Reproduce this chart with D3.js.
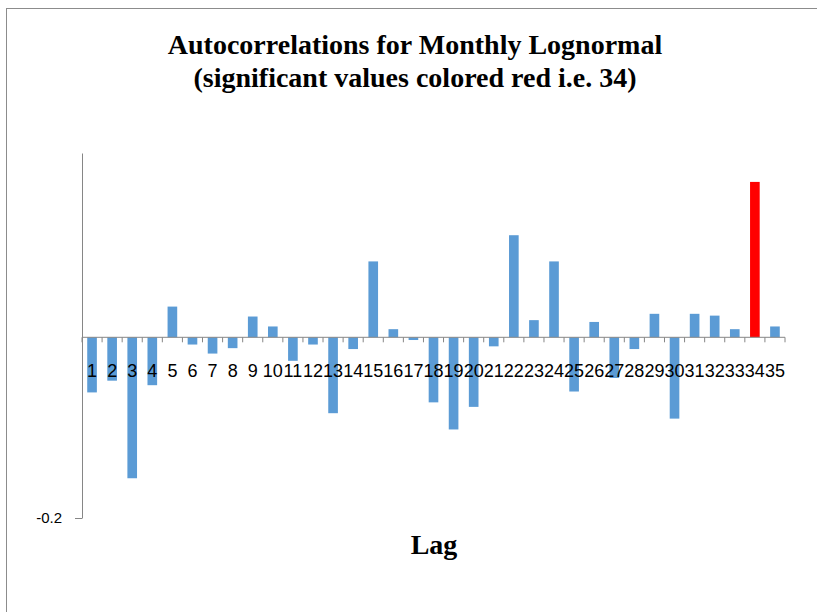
<!DOCTYPE html>
<html lang="en">
<head>
  <meta charset="utf-8">
  <title>Autocorrelations for Monthly Lognormal</title>
  <script src="https://d3js.org/d3.v7.min.js"></script>
  <style>
    body { margin: 0; background: #fff; }
    .axis path, .axis line { stroke: #868686; }
    .x.axis text { font-family: "Liberation Sans", Arial, sans-serif; font-size: 18px; fill: #000; }
    .y.axis text { font-family: "Liberation Sans", Arial, sans-serif; font-size: 15px; fill: #000; }
    .title { font-family: "Liberation Serif", "Times New Roman", serif; font-weight: bold; font-size: 28px; }
  </style>
</head>
<body>
<div class="chart1"></div>
<script>
  // lags 1..35 and autocorrelation values
  var lags = d3.range(1, 36);
  var acf = [-0.061, -0.048, -0.156, -0.053, 0.034, -0.008, -0.018, -0.012, 0.023, 0.012,
             -0.026, -0.008, -0.084, -0.013, 0.084, 0.009, -0.003, -0.072, -0.102, -0.077,
             -0.010, 0.113, 0.019, 0.084, -0.060, 0.017, -0.045, -0.013, 0.026, -0.090,
             0.026, 0.024, 0.009, 0.172, 0.012];
  var significant = [34];
  var yTicks = [-0.2];
  var yMin = -0.2, yMax = 0.204;

  var W = 817, H = 612;
  var margin = {top: 153, right: 32, bottom: 94, left: 82};
  var width = W - margin.left - margin.right,
      height = H - margin.top - margin.bottom;

  var svg = d3.select(".chart1").append("svg")
      .attr("width", W)
      .attr("height", H);

  // outer frame of the chart area
  svg.append("rect")
      .attr("x", 6.5).attr("y", 8.5)
      .attr("width", 1000).attr("height", 1000)
      .attr("fill", "none")
      .attr("stroke", "#8c8c8c");

  var title = svg.append("text")
      .attr("class", "title")
      .attr("text-anchor", "middle")
      .attr("x", 415);
  title.append("tspan").attr("x", 415).attr("y", 54).text("Autocorrelations for Monthly Lognormal");
  title.append("tspan").attr("x", 415).attr("y", 87).text("(significant values colored red i.e. 34)");

  var g = svg.append("g")
      .attr("transform", "translate(" + margin.left + "," + margin.top + ")");

  var xScale = d3.scaleBand()
      .domain(lags)
      .range([0, width])
      .paddingInner(0)
      .paddingOuter(0);

  var yScale = d3.scaleLinear()
      .domain([yMin, yMax])
      .range([height, 0]);

  // y axis
  g.append("g")
      .attr("class", "y axis")
      .call(d3.axisLeft(yScale)
        .tickValues(yTicks)
        .tickSizeInner(7)
        .tickSizeOuter(0)
        .tickPadding(13)
        .tickFormat(function(d) { return d.toFixed(1); }));

  // bars
  var barW = xScale.bandwidth() * 0.48;
  g.selectAll(".bar")
      .data(lags)
    .enter().append("rect")
      .attr("class", "bar")
      .attr("x", function(d) { return xScale(d) + (xScale.bandwidth() - barW) / 2; })
      .attr("width", barW)
      .attr("y", function(d, i) { return yScale(Math.max(0, acf[i])); })
      .attr("height", function(d, i) { return Math.abs(yScale(acf[i]) - yScale(0)); })
      .attr("fill", function(d) { return significant.indexOf(d) >= 0 ? "#ff0000" : "#5b9bd5"; });

  // x axis at zero with ticks on category boundaries
  var xAxis = g.append("g")
      .attr("class", "x axis")
      .attr("transform", "translate(0," + yScale(0) + ")")
      .call(d3.axisBottom(xScale).tickSize(0).tickPadding(27));
  xAxis.select(".domain").remove();
  xAxis.append("line")
      .attr("x1", 0).attr("x2", width)
      .attr("stroke", "#868686");
  xAxis.selectAll(".bound")
      .data(lags.concat([null]))
    .enter().append("line")
      .attr("class", "bound")
      .attr("x1", function(d) { return d === null ? width : xScale(d); })
      .attr("x2", function(d) { return d === null ? width : xScale(d); })
      .attr("y1", 0).attr("y2", 5)
      .attr("stroke", "#868686");

  // x axis title
  svg.append("text")
      .attr("class", "title")
      .attr("text-anchor", "middle")
      .attr("x", 434)
      .attr("y", 554)
      .text("Lag");
</script>
</body>
</html>
